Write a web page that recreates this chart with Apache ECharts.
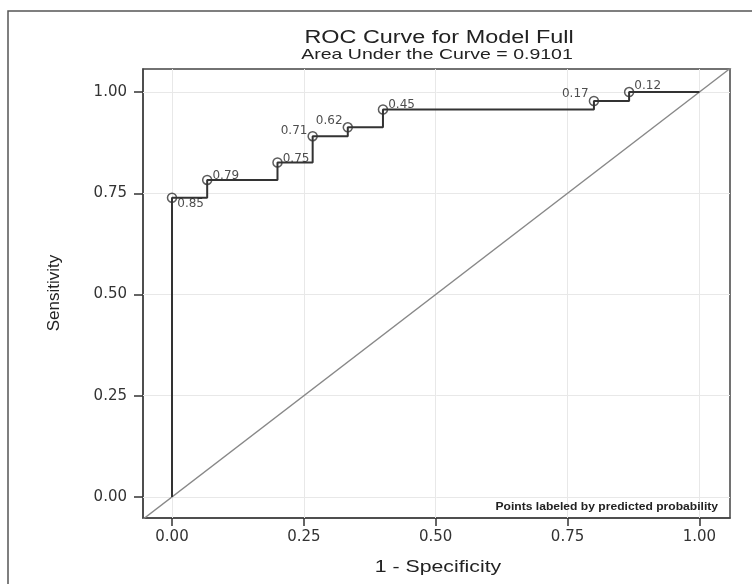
<!DOCTYPE html>
<html>
<head>
<meta charset="utf-8">
<script src="https://cdn.jsdelivr.net/npm/echarts@6/dist/echarts.min.js"></script>
<style>html,body{margin:0;padding:0;background:#fff;}#chart{width:752px;height:584px;}</style>
</head>
<body>
<div id="chart"></div>
<script>
// ROC curve vertices (1 - specificity, sensitivity), drawn as a step line
var curveFpr = [0, 0, 0.0667, 0.2, 0.2667, 0.3333, 0.4, 0.8, 0.8667, 1.0];
var curveTpr = [0, 0.739, 0.783, 0.826, 0.891, 0.913, 0.957, 0.978, 1.0, 1.0];
// labeled points
var pointFpr = [0, 0.0667, 0.2, 0.2667, 0.3333, 0.4, 0.8, 0.8667];
var pointTpr = [0.739, 0.783, 0.826, 0.891, 0.913, 0.957, 0.978, 1.0];
var pointLabels = ['0.85', '0.79', '0.75', '0.71', '0.62', '0.45', '0.17', '0.12'];
// reference diagonal
var diagX = [-0.06, 1.06];
var diagY = [-0.06, 1.06];
// tick labels
var tickValues = [0, 0.25, 0.5, 0.75, 1.0];
var tickLabels = ['0.00', '0.25', '0.50', '0.75', '1.00'];

var titleText = 'ROC Curve for Model Full';
var subtitleText = 'Area Under the Curve = 0.9101';
var xName = '1 - Specificity';
var yName = 'Sensitivity';
var noteText = 'Points labeled by predicted probability';

// label placement (style)
var labelSide = ['right', 'right', 'right', 'left', 'left', 'right', 'left', 'right'];
var labelDy = [6, -4, -4, -5, -6, -5, -7, -6];

var chart = echarts.init(document.getElementById('chart'), null, {renderer: 'canvas'});

function fmt(v) {
  for (var i = 0; i < tickValues.length; i++) {
    if (Math.abs(v - tickValues[i]) < 1e-9) return tickLabels[i];
  }
  return '';
}

var axisCommon = {
  type: 'value',
  min: -0.055,
  max: 1.058,
  splitLine: {show: false},
  axisLine: {show: true, onZero: false, lineStyle: {color: '#444', width: 1.5}},
  axisTick: {show: true, inside: false, customValues: tickValues, lineStyle: {color: '#333', width: 1.5}},
  axisLabel: {show: true, customValues: tickValues, formatter: fmt, color: '#333',
    fontFamily: 'DejaVu Sans', fontSize: 15}
};

var curveData = curveFpr.map(function (x, i) { return [x, curveTpr[i]]; });
var pointData = pointFpr.map(function (x, i) {
  return {
    value: [x, pointTpr[i]],
    label: {
      show: true,
      formatter: pointLabels[i],
      position: labelSide[i],
      distance: 0,
      offset: [0, labelDy[i]],
      color: '#222',
      fontFamily: 'DejaVu Sans',
      fontSize: 12
    }
  };
});

var option = {
  animation: false,
  backgroundColor: '#fff',
  grid: {left: 143, right: 22, top: 69, bottom: 66, show: true, borderColor: '#444', borderWidth: 1.5, backgroundColor: '#fff'},
  xAxis: Object.assign({}, axisCommon, {
    axisTick: Object.assign({}, axisCommon.axisTick, {length: 8}),
    axisLabel: Object.assign({}, axisCommon.axisLabel, {margin: 12})
  }),
  yAxis: Object.assign({}, axisCommon, {
    max: 1.057, min: -0.052,
    axisTick: Object.assign({}, axisCommon.axisTick, {length: 9}),
    axisLabel: Object.assign({}, axisCommon.axisLabel, {margin: 16})
  }),
  series: [
    {
      type: 'scatter',
      data: [],
      silent: true,
      z: 1,
      markLine: {
        silent: true,
        z: 1,
        symbol: ['none', 'none'],
        label: {show: false},
        lineStyle: {type: 'solid', color: '#e8e8e8', width: 1},
        data: tickValues.map(function (v) { return {xAxis: v}; })
          .concat(tickValues.map(function (v) { return {yAxis: v}; }))
      }
    },
    {
      type: 'line',
      data: diagX.map(function (x, i) { return [x, diagY[i]]; }),
      symbol: 'none',
      silent: true,
      z: 3,
      lineStyle: {color: '#888', width: 1.4}
    },
    {
      type: 'line',
      data: curveData,
      step: 'end',
      symbol: 'none',
      silent: true,
      z: 4,
      lineStyle: {color: '#333', width: 2}
    },
    {
      type: 'scatter',
      data: pointData,
      symbol: 'circle',
      symbolSize: 9,
      silent: true,
      z: 6,
      itemStyle: {color: 'rgba(255,255,255,0)', borderColor: '#333', borderWidth: 1.5}
    }
  ],
  graphic: [
    {
      type: 'rect', silent: true, z: -10,
      shape: {x: 8, y: 11, width: 900, height: 700},
      style: {fill: 'none', stroke: '#555', lineWidth: 1.5}
    },
    {
      type: 'text', x: 439, y: 38, scaleX: 1.3, silent: true,
      style: {text: titleText, fill: '#222', font: '18px "Liberation Sans"', textAlign: 'center', textVerticalAlign: 'middle'}
    },
    {
      type: 'text', x: 437, y: 55, scaleX: 1.3, silent: true,
      style: {text: subtitleText, fill: '#222', font: '15px "Liberation Sans"', textAlign: 'center', textVerticalAlign: 'middle'}
    },
    {
      type: 'text', x: 438, y: 567, scaleX: 1.25, silent: true,
      style: {text: xName, fill: '#222', font: '17px "Liberation Sans"', textAlign: 'center', textVerticalAlign: 'middle'}
    },
    {
      type: 'text', x: 54, y: 293, rotation: Math.PI / 2, silent: true,
      style: {text: yName, fill: '#222', font: '17px "Liberation Sans"', textAlign: 'center', textVerticalAlign: 'middle'}
    },
    {
      type: 'text', x: 718, y: 507, scaleX: 1.1, silent: true, z: 10,
      style: {text: noteText, fill: '#222', font: 'bold 11px "Liberation Sans"', textAlign: 'right', textVerticalAlign: 'middle'}
    }
  ]
};
chart.setOption(option);
</script>
</body>
</html>
